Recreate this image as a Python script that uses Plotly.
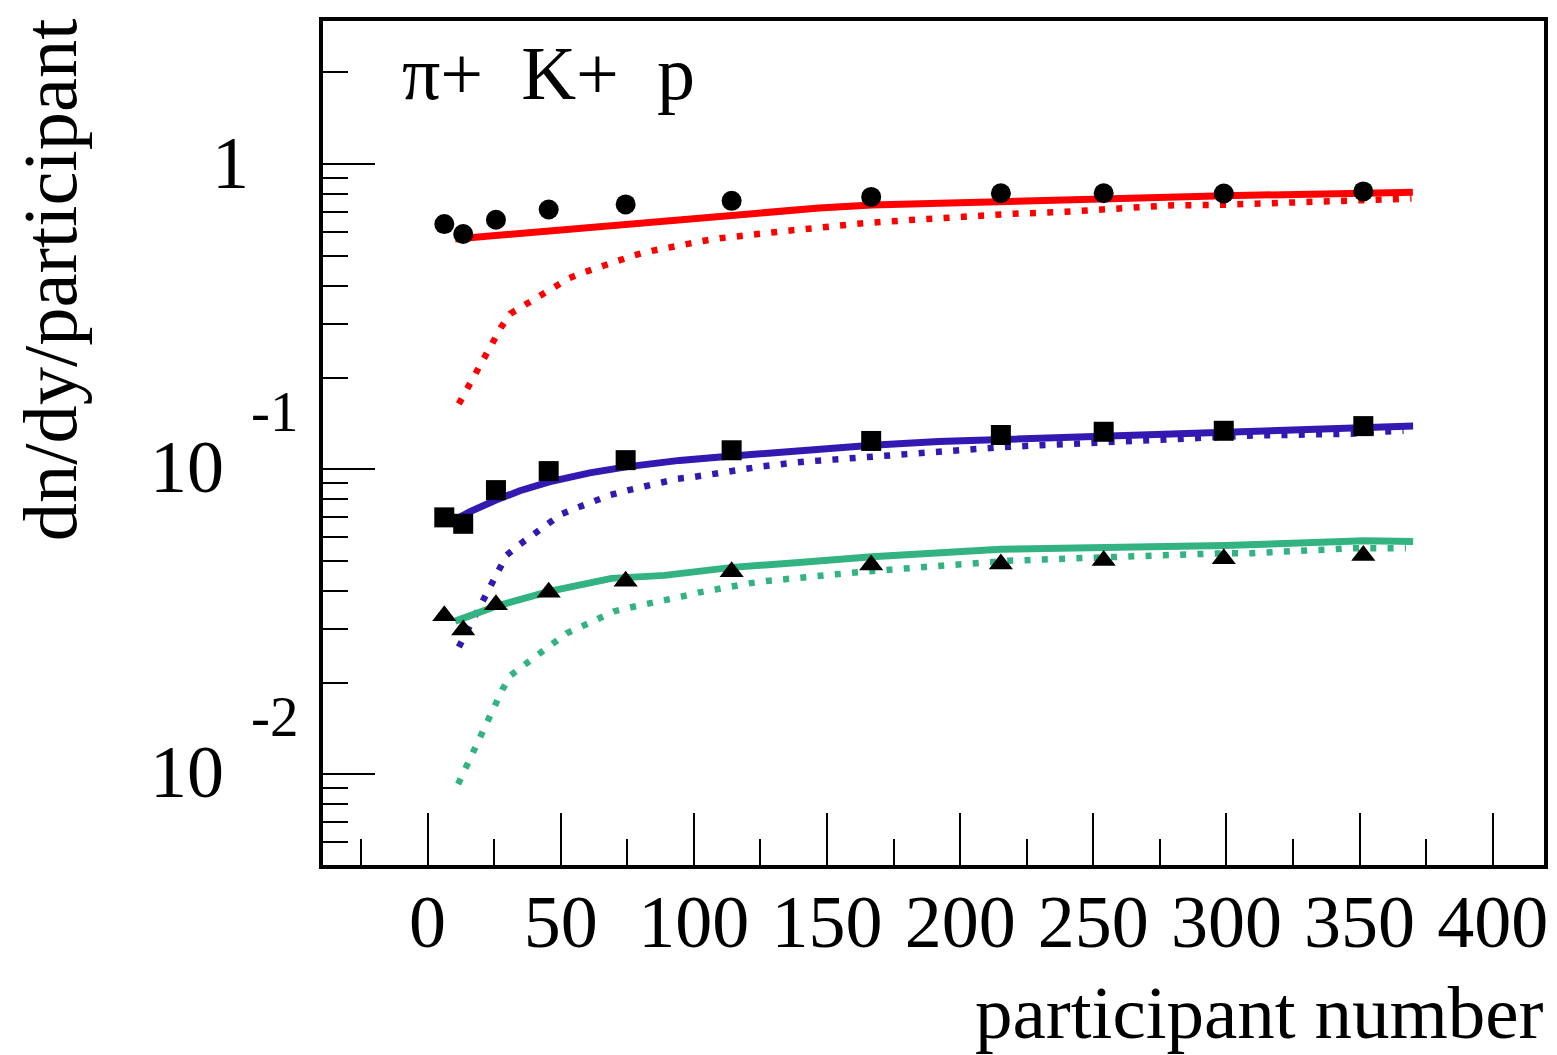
import math
import plotly.graph_objects as go

# ---------------- data ----------------
npart = [6.3, 13.4, 25.7, 45.5, 74.4, 114.2, 166.6, 215.3, 253.9, 299.0, 351.4]
pion_data = [0.637, 0.591, 0.658, 0.711, 0.739, 0.759, 0.782, 0.804, 0.804, 0.802, 0.815]
kaon_data = [0.0696, 0.0663, 0.0855, 0.0987, 0.1072, 0.1155, 0.1239, 0.1296, 0.1328, 0.1338, 0.1386]
proton_data = [0.03314, 0.02976, 0.03599, 0.03955, 0.04295, 0.04613, 0.04855, 0.04898, 0.05028, 0.05093, 0.05221]

# model curves (solid)
pion_solid_x = [10.4, 40.2, 80.4, 100.4, 147.0, 166.8, 215.1, 254.0, 299.3, 351.7, 370.0]
pion_solid_y = [0.569, 0.600, 0.642, 0.664, 0.719, 0.735, 0.757, 0.775, 0.789, 0.804, 0.810]

kaon_solid_x = [10.4, 16.0, 25.7, 34.7, 45.7, 60.9, 74.6, 94.6, 114.4, 139.5, 166.9, 191.9, 215.2, 254.1, 299.2, 351.7, 370.1]
kaon_solid_y = [0.0684, 0.0727, 0.0793, 0.0851, 0.0910, 0.0974, 0.1019, 0.1070, 0.1106, 0.1155, 0.1199, 0.1234, 0.1251, 0.1286, 0.1325, 0.1358, 0.1386]

proton_solid_x = [10.4, 25.7, 45.7, 69.1, 89.0, 114.4, 139.5, 166.9, 215.2, 254.1, 299.2, 351.7, 370.1]
proton_solid_y = [0.03180, 0.03558, 0.03984, 0.04392, 0.04492, 0.04772, 0.04954, 0.05169, 0.05474, 0.05558, 0.05629, 0.05831, 0.05801]

# model curves (dotted)
pion_dot_x = [11.75, 14.9, 18.1, 21.2, 24.3, 27.6, 31.1, 36.6, 42.1, 47.5, 53.3, 59.3, 65.5, 71.6, 77.8, 84.2,
              90.6, 97.1, 103.4, 109.8, 116.3, 122.6, 129.1, 135.5, 142.0, 161.5, 181.0, 200.5, 220.1, 239.4,
              258.9, 278.4, 297.9, 324.1, 337.0, 350.1, 363.0, 369.5]
pion_dot_y = [0.1640, 0.1840, 0.2064, 0.2311, 0.2593, 0.2917, 0.3240, 0.3475, 0.3717, 0.3990, 0.4238, 0.4442,
              0.4648, 0.4874, 0.5036, 0.5201, 0.5348, 0.5483, 0.5608, 0.5722, 0.5822, 0.5923, 0.6000, 0.6059,
              0.6136, 0.6386, 0.6565, 0.6752, 0.6885, 0.6988, 0.7188, 0.7333, 0.7365, 0.7461, 0.7516, 0.7591,
              0.7687, 0.7728]

kaon_dot_x = [11.75, 17.6, 20.6, 23.7, 26.8, 29.7, 34.7, 39.9, 45.3, 50.4, 56.5, 62.7, 68.6, 74.9, 81.2, 87.5,
              93.9, 100.3, 106.8, 113.3, 126.1, 139.1, 152.0, 165.1, 177.8, 190.9, 203.8, 216.8, 229.9, 243.0,
              256.1, 269.0, 281.8, 294.9, 307.8, 320.9, 333.9, 346.8, 359.9, 366.5]
kaon_dot_y = [0.02616, 0.03284, 0.03687, 0.04145, 0.04655, 0.05233, 0.05684, 0.06113, 0.06627, 0.07143, 0.07505,
              0.07874, 0.08237, 0.08526, 0.08814, 0.09103, 0.09311, 0.09452, 0.09667, 0.09865, 0.1024, 0.1056,
              0.1076, 0.1104, 0.1123, 0.1151, 0.1167, 0.1184, 0.1199, 0.1214, 0.1239, 0.1254, 0.1264, 0.1274,
              0.1289, 0.1296, 0.1299, 0.1309, 0.1332, 0.1338]

proton_dot_x = [11.5, 14.5, 17.1, 19.8, 22.7, 25.4, 28.1, 31.3, 36.7, 41.7, 46.7, 52.2, 58.0, 63.9, 69.9, 76.1,
                82.6, 89.0, 95.4, 101.6, 108.0, 114.3, 120.8, 127.2, 133.6, 140.2, 153.3, 166.1, 179.0, 192.1,
                205.2, 218.3, 231.2, 244.1, 257.1, 270.0, 283.1, 296.2, 309.2, 322.1, 335.2, 348.1, 361.1, 367.4]
proton_dot_y = [0.00930, 0.01052, 0.01180, 0.01334, 0.01497, 0.01688, 0.01898, 0.02114, 0.02297, 0.02482,
                0.02696, 0.02900, 0.03057, 0.03236, 0.03421, 0.03525, 0.03614, 0.03715, 0.03828, 0.03945,
                0.04053, 0.04145, 0.04230, 0.04304, 0.04370, 0.04403, 0.04527, 0.04638, 0.04733, 0.04830,
                0.04943, 0.05017, 0.05066, 0.05116, 0.05169, 0.05221, 0.05248, 0.05300, 0.05312, 0.05380,
                0.05449, 0.05515, 0.05515, 0.05515]

# axis ticks
x_major = [0, 50, 100, 150, 200, 250, 300, 350, 400]
x_labels = ["0", "50", "100", "150", "200", "250", "300", "350", "400"]
x_minor = [-25, 25, 75, 125, 175, 225, 275, 325, 375]
y_major = [0.01, 0.1, 1]
y_label_base = ["10", "10", "1"]
y_label_exp = ["-2", "-1", ""]
y_minor = [m * d for d in (0.001, 0.01, 0.1) for m in range(2, 10)] + [2]

header_text = "\u03c0+\u00a0\u00a0K+\u00a0\u00a0p"
x_title = "participant number"
y_title = "dn/dy/participant"

# ---------------- style ----------------
FONT = "Liberation Serif, Times New Roman, serif"
RED = "#ff0000"
BLUE = "#3319b2"
GREEN = "#33b382"

fig = go.Figure()

for xs, ys, col in [(pion_dot_x, pion_dot_y, RED), (kaon_dot_x, kaon_dot_y, BLUE), (proton_dot_x, proton_dot_y, GREEN)]:
    fig.add_trace(go.Scatter(x=xs, y=ys, mode="lines",
                             line=dict(color=col, width=6.5, dash="6px,11.3px"),
                             hoverinfo="skip"))
for xs, ys, col in [(pion_solid_x, pion_solid_y, RED), (kaon_solid_x, kaon_solid_y, BLUE), (proton_solid_x, proton_solid_y, GREEN)]:
    fig.add_trace(go.Scatter(x=xs, y=ys, mode="lines",
                             line=dict(color=col, width=7),
                             hoverinfo="skip"))

fig.add_trace(go.Scatter(x=npart, y=pion_data, mode="markers",
                         marker=dict(symbol="circle", size=20, color="black")))
fig.add_trace(go.Scatter(x=npart, y=kaon_data, mode="markers",
                         marker=dict(symbol="square", size=20, color="black")))
fig.add_trace(go.Scatter(x=npart, y=proton_data, mode="markers",
                         marker=dict(symbol="triangle-up", size=21, color="black")))

# page has an 8px body margin; figure sized to reach the window's right/bottom edges
OFF = 8
W, H = 1557 - OFF, 1055 - OFF
# plot area in page pixels: x 323..1547, y 17..865
L, T = 323 - OFF, 17 - OFF
R = W - (1547 - OFF)
B = H - (865 - OFF)
plot_w = W - L - R
plot_h = H - T - B

def px_x(p):
    return (p - OFF - L) / plot_w

def px_y(p):
    return (H - B - (p - OFF)) / plot_h

annotations = []
for v, base, exp in zip(y_major, y_label_base, y_label_exp):
    if exp:
        annotations.append(dict(text=base, xref="paper", yref="y", x=px_x(187), y=math.log10(v),
                                yshift=2, xanchor="center", yanchor="middle", showarrow=False,
                                font=dict(family=FONT, size=74, color="black")))
        annotations.append(dict(text=exp, xref="paper", yref="y", x=px_x(274), y=math.log10(v),
                                yshift=58, xanchor="center", yanchor="middle", showarrow=False,
                                font=dict(family=FONT, size=57, color="black")))
    else:
        annotations.append(dict(text=base, xref="paper", yref="y", x=px_x(230), y=math.log10(v),
                                yshift=1, xanchor="center", yanchor="middle", showarrow=False,
                                font=dict(family=FONT, size=74, color="black")))

annotations.append(dict(text=header_text, xref="paper", yref="paper", x=px_x(400), y=px_y(69),
                        xanchor="left", yanchor="middle", showarrow=False,
                        font=dict(family=FONT, size=76, color="black")))
annotations.append(dict(text=x_title, xref="paper", yref="paper", x=px_x(1549), y=px_y(1013),
                        xanchor="right", yanchor="middle", showarrow=False,
                        font=dict(family=FONT, size=75, color="black")))
annotations.append(dict(text=y_title, xref="paper", yref="paper", x=px_x(50), y=px_y(12),
                        xanchor="center", yanchor="top", textangle=-90, showarrow=False,
                        font=dict(family=FONT, size=76.5, color="black")))

fig.update_layout(
    width=W, height=H,
    margin=dict(l=L, r=R, t=T, b=B, pad=0),
    paper_bgcolor="white", plot_bgcolor="white",
    showlegend=False,
    annotations=annotations,
    xaxis=dict(
        range=[-39.25, 419.25],
        showgrid=False, zeroline=False,
        showline=True, mirror=True, linewidth=4, linecolor="black",
        ticks="inside", ticklen=52, tickwidth=2, tickcolor="black",
        tickmode="array", tickvals=x_major, ticktext=x_labels,
        tickfont=dict(family=FONT, size=74, color="black"),
        ticklabelstandoff=-11,
        minor=dict(ticks="inside", ticklen=26, tickwidth=2, tickcolor="black",
                   tickmode="array", tickvals=x_minor, showgrid=False),
    ),
    yaxis=dict(
        type="log",
        range=[-2.297, 0.4698],
        showgrid=False, zeroline=False,
        showline=True, mirror=True, linewidth=4, linecolor="black",
        ticks="inside", ticklen=52, tickwidth=1.5, tickcolor="black",
        tickmode="array", tickvals=y_major,
        showticklabels=False,
        minor=dict(ticks="inside", ticklen=25, tickwidth=1.5, tickcolor="black",
                   tickmode="array", tickvals=y_minor, showgrid=False),
    ),
)

fig.write_html("out.html")
